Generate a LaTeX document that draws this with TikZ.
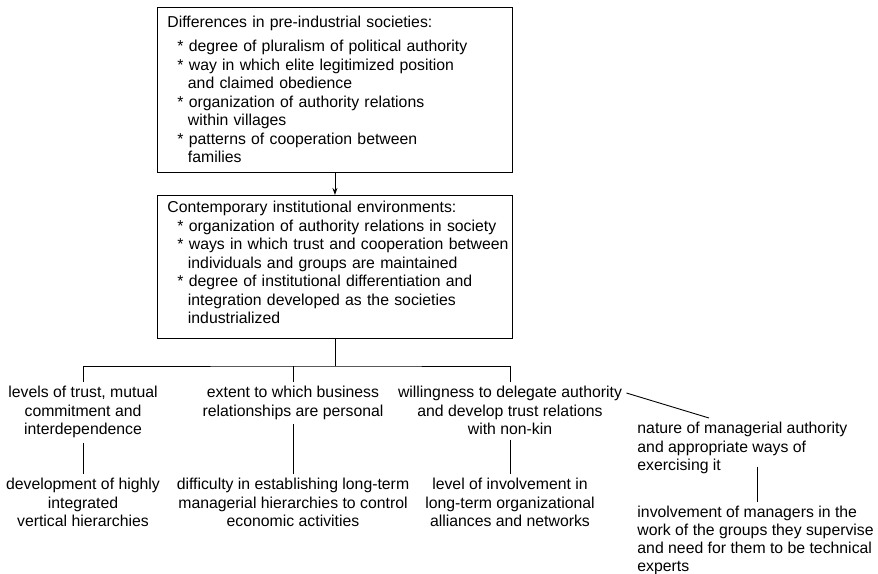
\documentclass[tikz,border=0pt]{standalone}
\usepackage{fontspec}
\setmainfont{Liberation Sans}
\usetikzlibrary{positioning,arrows.meta}
\newcommand\itemstar{\hspace*{10pt}*\ }
\newcommand\itemcont{\hspace*{20.5pt}}

\begin{document}
\begin{tikzpicture}[x=1pt, y=-1pt, line width=0.9pt]
        \tikzstyle{every node} = [font=\fontsize{15.8}{18.5}\selectfont]
        \tikzstyle{box} = [draw, anchor=north west, text width=335pt, inner xsep=10pt, inner ysep=0pt, align=left]
        \tikzstyle{lbl} = [align=center, inner sep=4pt]
        \useasboundingbox (0,0) rectangle (878,573);

        \node[box](pre) at (157,7){\rule{0pt}{20.5pt}Differences in pre-industrial societies:\\[5.5pt]
            \itemstar degree of pluralism of political authority\\
            \itemstar way in which elite legitimized position\\
            \itemcont and claimed obedience\\
            \itemstar organization of authority relations\\
            \itemcont within villages\\
            \itemstar patterns of cooperation between\\
            \itemcont families\rule[-9.5pt]{0pt}{0pt}};
        \node[box, below=22pt of pre](env){\rule{0pt}{17.5pt}Contemporary institutional environments:\\
            \itemstar organization of authority relations in society\\
            \itemstar \mbox{ways in which trust and cooperation between}\\
            \itemcont individuals and groups are maintained\\
            \itemstar degree of institutional differentiation and\\
            \itemcont integration developed as the societies\\
            \itemcont industrialized\rule[-14.5pt]{0pt}{0pt}};

        \node[lbl, anchor=north](trust) at (83,382){levels of trust, mutual\\commitment and\\interdependence};
        \node[lbl, anchor=north](coop) at (293,382){extent to which business\\relationships are personal};
        \node[lbl, anchor=north](deleg) at (510,382){willingness to delegate authority\\and develop trust relations\\with non-kin};
        \node[lbl, below=31pt of trust](hier){development of highly\\integrated\\vertical hierarchies};
        \node[lbl, anchor=north](diff) at (coop |- hier.north){difficulty in establishing long-term\\managerial hierarchies to control\\economic activities};
        \node[lbl, anchor=north](alli) at (deleg |- hier.north){level of involvement in\\long-term organizational\\alliances and networks};
        \node[lbl, align=left, anchor=north west](nature) at (633,418){nature of managerial authority\\and appropriate ways of\\exercising it};
        \node[lbl, align=left, anchor=north west, font=\fontsize{15.8}{17.7}\selectfont](involve) at (633,502){involvement of managers in the\\work of the groups they supervise\\and need for them to be technical\\experts};

        % top boxes
        \path (pre) edge[-{Stealth[length=7pt,width=5pt]}] (env);
        \coordinate (bus) at (env.south |- 0,366);
        \draw (env.south) -- (bus);
        \draw (trust.north) |- (bus) -| (deleg.north);
        \draw (coop.north) -- (coop.north |- bus);

        % columns
        \path (trust) edge (hier);
        \path (coop) edge (diff);
        \path (deleg) edge (alli);
        \draw ([yshift=-11pt]deleg.north east) -- ([xshift=76pt]nature.north west);
        \draw ([xshift=124pt,yshift=12pt]nature.south west) -- ([xshift=124pt]involve.north west);
    \end{tikzpicture}
\end{document}
